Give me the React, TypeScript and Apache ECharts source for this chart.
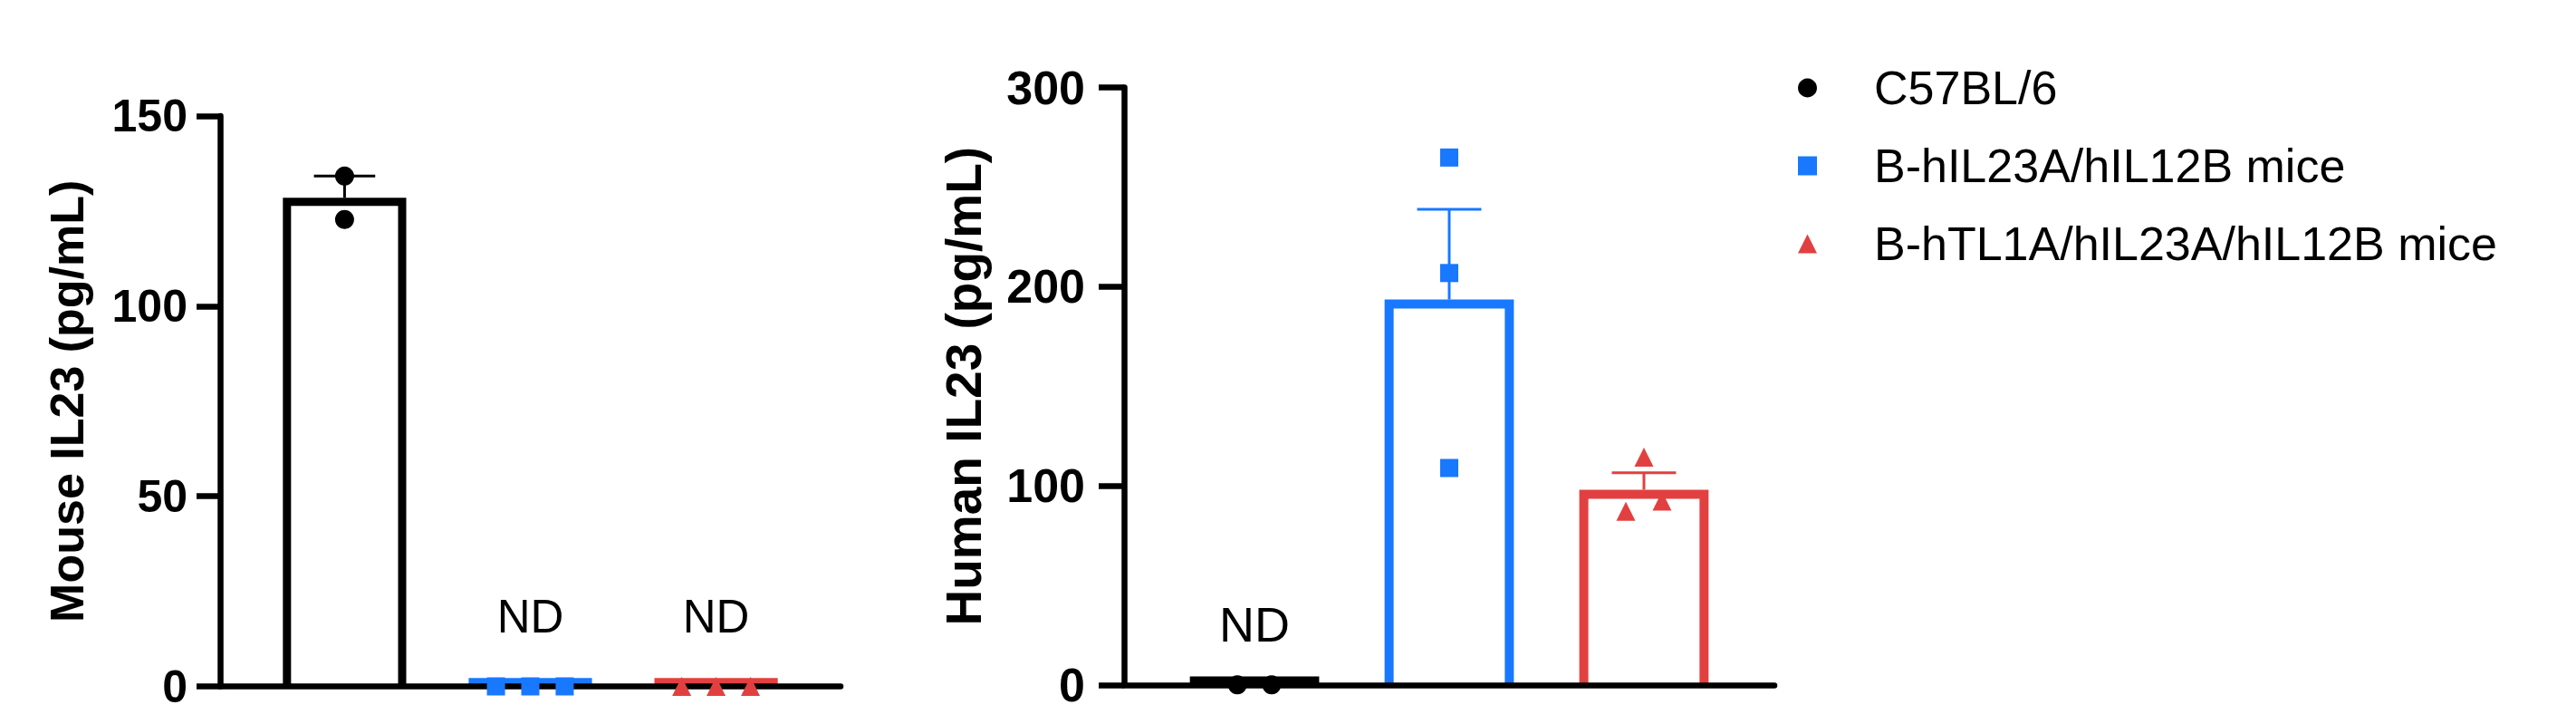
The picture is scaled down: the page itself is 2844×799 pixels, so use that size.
import React, { useEffect, useRef } from 'react';
import * as echarts from 'echarts';

// ---------- data ----------
const groups = ['C57BL/6', 'B-hIL23A/hIL12B mice', 'B-hTL1A/hIL23A/hIL12B mice'];
const groupColors = ['#000000', '#1878ff', '#e24040'];
const groupSymbols = ['circle', 'rect', 'triangle'];
const symbolSizes = [21, 20, 21];

// Left panel: mouse IL23
const mouseTitle = 'Mouse IL23 (pg/mL)';
const mouseMax = 150;
const mouseInterval = 50;
const mouseMean = [128.5, 2.2, 2.2];
const mouseSem = [5.7, 0, 0];
const mouseC57 = [134.2, 122.8];
const mouseHIL = [0, 0, 0];
const mouseHTL = [0, 0, 0];
const mouseJitter = [[0, 0], [-0.185, 0, 0.185], [-0.185, 0, 0.185]];
const mouseND = ['', 'ND', 'ND'];

// Right panel: human IL23
const humanTitle = 'Human IL23 (pg/mL)';
const humanMax = 300;
const humanInterval = 100;
const humanMean = [4.2, 193.5, 98.0];
const humanSem = [0, 45.3, 8.5];
const humanC57 = [0, 0];
const humanHIL = [264.8, 206.8, 108.9];
const humanHTL = [114.4, 87.2, 92.3];
const humanJitter = [[-0.088, 0.088], [0, 0, 0], [0, -0.093, 0.093]];
const humanND = ['ND', '', ''];

// ---------- style ----------
const FONT = 'Liberation Sans, Arial, Helvetica, sans-serif';
const BAR_W = 0.664;
const CAP_W = 0.33;
const AXIS_W = 6.5;

type PanelCfg = {
  title: string;
  max: number;
  interval: number;
  mean: number[];
  sem: number[];
  points: number[][];
  jitter: number[][];
  nd: string[];
  grid: { left: number; top: number; width: number; height: number };
  stroke: number;
  nameGap: number;
  nameSize: number;
  labelSize: number;
  labelMargin: number;
  tickLen: number;
  ndSize: number;
  ndOffset: number;
};

function buildPanel(idx: number, c: PanelCfg) {
  const series: any[] = [];
  // bars: white fill, outline drawn inside the bar edge, open at the baseline
  series.push({
    type: 'custom',
    xAxisIndex: idx,
    yAxisIndex: idx,
    z: 1,
    silent: true,
    data: c.mean.map((m, i) => [i + 1, m, i]),
    renderItem: (params: any, api: any) => {
      const x = api.value(0);
      const m = api.value(1);
      const ci = api.value(2);
      const base = api.coord([x, 0]);
      const top = api.coord([x, m]);
      const w = api.size([BAR_W, 0])[0];
      const sw = c.stroke;
      const xl = base[0] - w / 2 + sw / 2;
      const xr = base[0] + w / 2 - sw / 2;
      const yt = Math.min(top[1] + sw / 2, base[1]);
      return {
        type: 'group',
        children: [
          {
            type: 'rect',
            shape: { x: xl, y: yt, width: xr - xl, height: base[1] - yt },
            style: { fill: '#ffffff' },
          },
          {
            type: 'polyline',
            shape: { points: [[xl, base[1]], [xl, yt], [xr, yt], [xr, base[1]]] },
            style: { fill: 'none', stroke: groupColors[ci], lineWidth: sw, lineJoin: 'miter', lineCap: 'butt' },
          },
        ],
      };
    },
  });
  // error bars (mean + SEM)
  series.push({
    type: 'custom',
    xAxisIndex: idx,
    yAxisIndex: idx,
    z: 4,
    silent: true,
    data: c.mean.map((m, i) => [i + 1, m, c.sem[i], i]),
    renderItem: (params: any, api: any) => {
      const x = api.value(0);
      const m = api.value(1);
      const s = api.value(2);
      const ci = api.value(3);
      if (!(s > 0)) return { type: 'group', children: [] };
      const p0 = api.coord([x, m]);
      const p1 = api.coord([x, m + s]);
      const cw = api.size([CAP_W, 0])[0];
      const st = { stroke: groupColors[ci], lineWidth: 3 };
      return {
        type: 'group',
        children: [
          { type: 'line', shape: { x1: p0[0], y1: p0[1], x2: p1[0], y2: p1[1] }, style: st },
          { type: 'line', shape: { x1: p1[0] - cw / 2, y1: p1[1], x2: p1[0] + cw / 2, y2: p1[1] }, style: st },
        ],
      };
    },
  });
  // ND labels
  series.push({
    type: 'custom',
    xAxisIndex: idx,
    yAxisIndex: idx,
    z: 4,
    silent: true,
    data: c.nd.map((t, i) => [i + 1, 0, i]).filter((d) => c.nd[d[2]] !== ''),
    renderItem: (params: any, api: any) => {
      const x = api.value(0);
      const ci = api.value(2);
      const p = api.coord([x, 0]);
      return {
        type: 'text',
        x: p[0],
        y: p[1] - c.ndOffset,
        style: {
          text: c.nd[ci],
          fontSize: c.ndSize,
          fontFamily: FONT,
          fill: '#000000',
          align: 'center',
          verticalAlign: 'middle',
        },
      };
    },
  });
  // individual points
  c.points.forEach((vals, g) => {
    series.push({
      type: 'scatter',
      name: groups[g],
      xAxisIndex: idx,
      yAxisIndex: idx,
      z: 5,
      symbol: groupSymbols[g],
      symbolSize: symbolSizes[g],
      itemStyle: { color: groupColors[g], opacity: 1 },
      data: vals.map((v, j) => [g + 1 + c.jitter[g][j], v]),
    });
  });

  const grid = { ...c.grid, containLabel: false };
  const xAxis = {
    gridIndex: idx,
    type: 'value',
    min: 0.33,
    max: 3.67,
    z: 3,
    axisLine: { show: true, onZero: false, lineStyle: { color: '#000', width: AXIS_W } },
    axisTick: { show: false },
    axisLabel: { show: false },
    splitLine: { show: false },
  };
  const yAxis = {
    gridIndex: idx,
    type: 'value',
    min: 0,
    max: c.max,
    interval: c.interval,
    z: 3,
    name: c.title,
    nameLocation: 'middle',
    nameGap: c.nameGap,
    nameTextStyle: { fontSize: c.nameSize, fontWeight: 'bold', fontFamily: FONT, color: '#000' },
    axisLine: { show: true, onZero: false, lineStyle: { color: '#000', width: AXIS_W } },
    axisTick: { show: true, length: c.tickLen, lineStyle: { color: '#000', width: AXIS_W } },
    axisLabel: { margin: c.labelMargin, fontSize: c.labelSize, fontWeight: 'bold', fontFamily: FONT, color: '#000' },
    splitLine: { show: false },
  };
  return { grid, xAxis, yAxis, series };
}

export default function App() {
  const ref = useRef<HTMLDivElement>(null);
  useEffect(() => {
    if (!ref.current) return;
    const chart = echarts.init(ref.current, undefined, { renderer: 'svg' });
    const left = buildPanel(0, {
      title: mouseTitle,
      max: mouseMax,
      interval: mouseInterval,
      mean: mouseMean,
      sem: mouseSem,
      points: [mouseC57, mouseHIL, mouseHTL],
      jitter: mouseJitter,
      nd: mouseND,
      grid: { left: 243, top: 128, width: 685, height: 629.5 },
      stroke: 9,
      nameGap: 143,
      nameSize: 52,
      labelSize: 50,
      labelMargin: 36,
      tickLen: 26,
      ndSize: 51,
      ndOffset: 77,
    });
    const right = buildPanel(1, {
      title: humanTitle,
      max: humanMax,
      interval: humanInterval,
      mean: humanMean,
      sem: humanSem,
      points: [humanC57, humanHIL, humanHTL],
      jitter: humanJitter,
      nd: humanND,
      grid: { left: 1241, top: 96.5, width: 718, height: 659.3 },
      stroke: 10,
      nameGap: 150,
      nameSize: 55,
      labelSize: 52,
      labelMargin: 43,
      tickLen: 28,
      ndSize: 54,
      ndOffset: 67,
    });
    chart.setOption({
      animation: false,
      backgroundColor: '#ffffff',
      textStyle: { fontFamily: FONT },
      grid: [left.grid, right.grid],
      xAxis: [left.xAxis, right.xAxis],
      yAxis: [left.yAxis, right.yAxis],
      legend: {
        orient: 'vertical',
        left: 1980,
        top: 66,
        itemWidth: 21,
        itemHeight: 21,
        itemGap: 34,
        selectedMode: false,
        data: groups.map((n, i) => ({ name: n, icon: groupSymbols[i] })),
        textStyle: { fontSize: 52, fontFamily: FONT, color: '#000', padding: [0, 0, 0, 58] },
      },
      series: [...left.series, ...right.series],
    });
    return () => chart.dispose();
  }, []);
  return (
    <div
      ref={ref}
      style={{ position: 'fixed', left: 0, top: 0, width: 2844, height: 799, background: '#fff' }}
    />
  );
}
